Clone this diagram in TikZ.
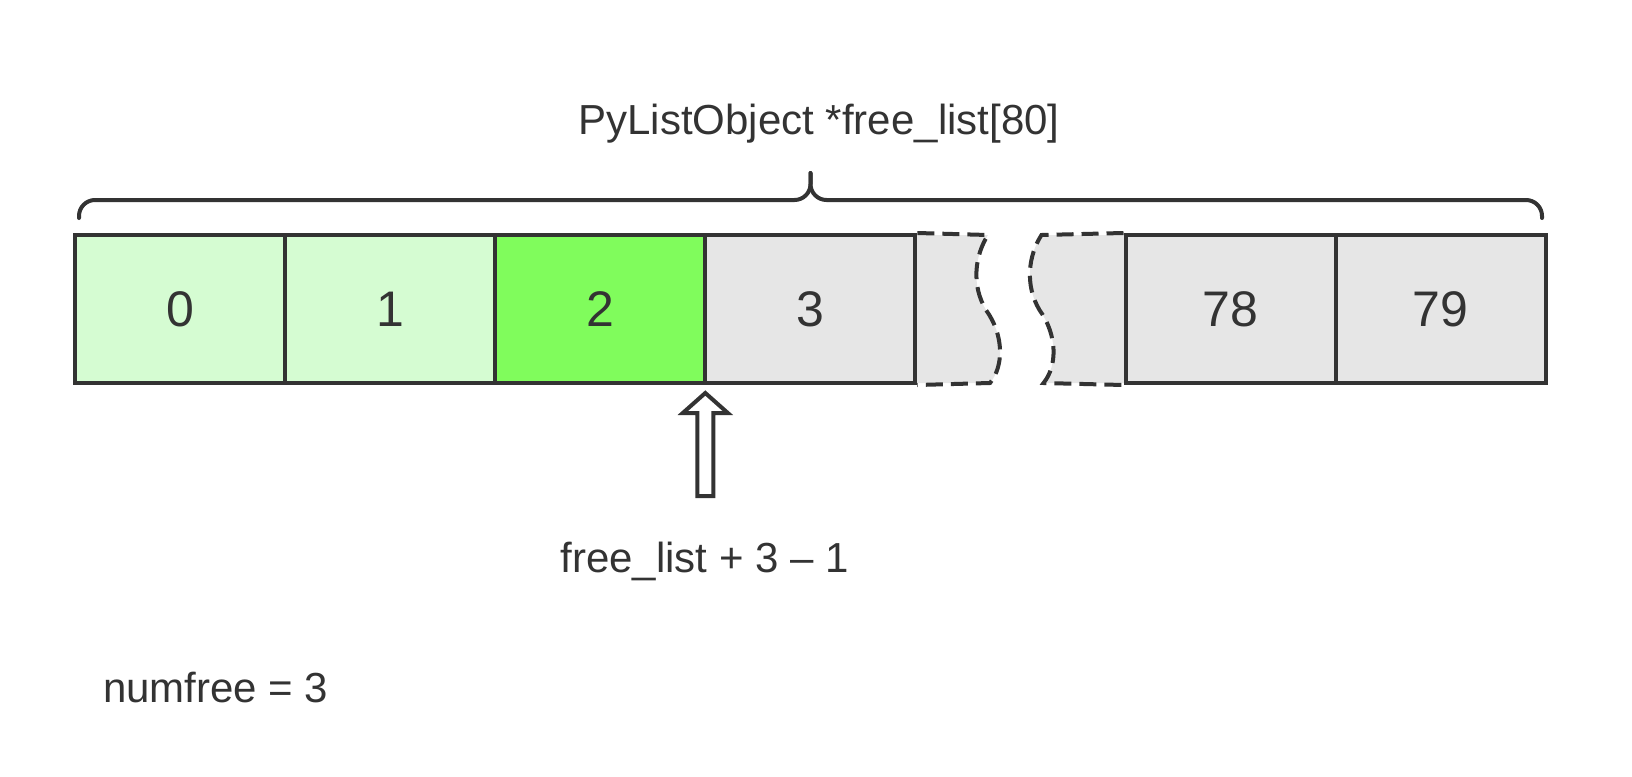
\documentclass[tikz,border=0pt]{standalone}
\usepackage{fontspec}
\setmainfont{Liberation Sans}
\definecolor{ink}{RGB}{51,51,51}
\definecolor{lgreen}{RGB}{213,252,210}
\definecolor{bgreen}{RGB}{128,252,92}
\definecolor{lgray}{RGB}{230,230,230}
\begin{document}
\begin{tikzpicture}[x=0.5pt,y=-0.5pt,line width=2pt,
  cell/.style={draw=ink,minimum width=105.05pt,minimum height=74pt,inner sep=0pt,
    font=\fontsize{25}{30}\selectfont,text=ink},
  lbl/.style={font=\fontsize{21}{25}\selectfont,text=ink,inner sep=0pt},
  brk/.style={draw=ink,dash pattern=on 8.5pt off 4pt}]
\useasboundingbox (0,0) rectangle (1632,776);

% title and brace
\node[lbl,anchor=base] (title) at (819,134) {PyListObject *free\_list[80]};
\draw[ink,rounded corners=8pt,line cap=round] (79,218) |- (810.5,200) -- (810.5,173);
\draw[ink,rounded corners=8pt,line cap=round] (810.5,173) -- (810.5,200) -| (1542,218);

% gap region (broken cell)
\coordinate (wlt) at (988,235);
\coordinate (wlb) at (990,383);
\coordinate (wrt) at (1041.5,235);
\coordinate (wrb) at (1043.5,383);
\fill[lgray] (915.4,235) -- (wlt) .. controls (975,255) and (971,285) .. (986,310)
  .. controls (1004,335) and (1004,366) .. (wlb) -- (915.4,383) -- cycle;
\fill[lgray] (1125.4,235) -- (wrt) .. controls (1028.5,255) and (1024.5,285) .. (1039.5,310)
  .. controls (1057.5,335) and (1057.5,366) .. (wrb) -- (1125.4,383) -- cycle;

% cells
\node[cell,fill=lgreen] (c0) at (180.05,309) {0};
\node[cell,fill=lgreen] (c1) at (390.15,309) {1};
\node[cell,fill=bgreen] (c2) at (600.25,309) {2};
\node[cell,fill=lgray]  (c3) at (810.35,309) {3};
\node[cell,fill=lgray]  (c78) at (1230.55,309) {78};
\node[cell,fill=lgray]  (c79) at (1440.65,309) {79};

% dashed break outlines
\draw[brk] (c3.north east) -- (wlt) .. controls (975,255) and (971,285) .. (986,310)
  .. controls (1004,335) and (1004,366) .. (wlb) -- (c3.south east);
\draw[brk] (c78.north west) -- (wrt) .. controls (1028.5,255) and (1024.5,285) .. (1039.5,310)
  .. controls (1057.5,335) and (1057.5,366) .. (wrb) -- (c78.south west);

% hollow arrow
\coordinate (tip) at (705.3,393);
\draw[ink,fill=white,shift={(705.3,393)}] (0,0) -- (22.5,20) -- (8,20) -- (8,103)
  -- (-8,103) -- (-8,20) -- (-22.5,20) -- cycle;

% labels
\node[lbl,anchor=base] (ptr) at (704.5,572) {free\_list + 3 – 1};
\node[lbl,anchor=base west] (nf) at (101,702) {numfree = 3};
\end{tikzpicture}
\end{document}
